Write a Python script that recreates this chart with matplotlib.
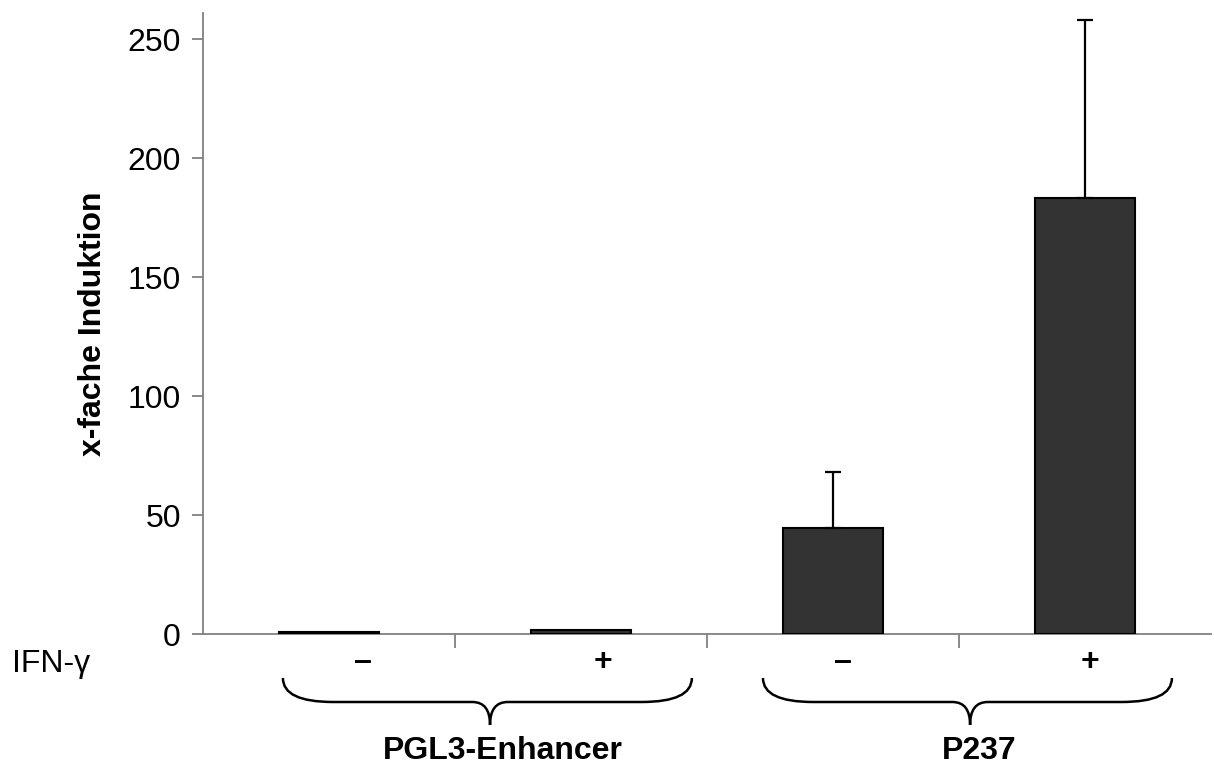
import matplotlib
matplotlib.use("Agg")
import matplotlib.pyplot as plt
from matplotlib.path import Path
from matplotlib.patches import PathPatch
from matplotlib.transforms import blended_transform_factory

plt.rcParams['font.family'] = ['Liberation Sans', 'DejaVu Sans']

# Data
treatment = ["–", "+", "–", "+"]
values = [1.0, 1.8, 44.7, 183.2]
errors = [0.0, 0.0, 23.5, 75.0]
groups = ["PGL3-Enhancer", "P237"]
yticks = [0, 50, 100, 150, 200, 250]

W, H = 1214, 770
fig = plt.figure(figsize=(W / 100, H / 100), dpi=100)
ax = fig.add_axes([203 / W, 1 - 634 / H, 1008 / W, 621 / H])

x = list(range(len(values)))
ax.bar(x, values, width=0.4, color="#333333", edgecolor="black", linewidth=1.5, zorder=3)
for xi, v, e in zip(x, values, errors):
    if e > 0:
        ax.errorbar([xi], [v], yerr=[[0], [e]], fmt="none", ecolor="black",
                    elinewidth=1.6, capsize=5.5, capthick=1.6, zorder=4)

ax.set_xlim(-0.5, len(values) - 0.5)
ax.set_ylim(0, 261)
ax.set_yticks(yticks)
ax.set_yticklabels([str(t) for t in yticks], fontsize=23)

grey = "#808080"
for s in ["top", "right"]:
    ax.spines[s].set_visible(False)
for s in ["left", "bottom"]:
    ax.spines[s].set_color(grey)
    ax.spines[s].set_linewidth(1.3)
ax.tick_params(axis="y", direction="out", length=8, width=1.3, color=grey, pad=8)

# category separators on the x axis, pointing down
ax.set_xticks([i + 0.5 for i in x[:-1]])
ax.set_xticklabels([])
ax.tick_params(axis="x", direction="out", length=10, width=1.3, color=grey)

ax.set_ylabel("x-fache Induktion", fontsize=23, fontweight="bold", labelpad=14)

# annotation row below the axis: treatment signs, braces and group names
tr = blended_transform_factory(ax.transData, fig.transFigure)
sign_x = [0.135, 1.087, 2.040, 3.020]
for sx, t in zip(sign_x, treatment):
    ax.text(sx, 1 - 662 / H, t, transform=tr, ha="center", va="center",
            fontsize=23, fontweight="bold")
fig.text(12 / W, 1 - 664 / H, "IFN-γ", ha="left", va="center", fontsize=23)


def brace(x0, x1, xt, ytop, ymid, ytip, rx_end, rx_tip):
    verts = [
        (x0, ytop), (x0, ymid), (x0 + rx_end, ymid),
        (xt - rx_tip, ymid),
        (xt, ymid), (xt, ytip),
        (xt, ymid), (xt + rx_tip, ymid),
        (x1 - rx_end, ymid),
        (x1, ymid), (x1, ytop),
    ]
    codes = [Path.MOVETO, Path.CURVE3, Path.CURVE3, Path.LINETO,
             Path.CURVE3, Path.CURVE3, Path.CURVE3, Path.CURVE3,
             Path.LINETO, Path.CURVE3, Path.CURVE3]
    return PathPatch(Path(verts, codes), fill=False, edgecolor="black",
                     linewidth=1.8, transform=tr, clip_on=False)


ytop, ymid, ytip = 1 - 678 / H, 1 - 702 / H, 1 - 725 / H
brace_left = [-0.183, 1.722]
brace_right = [1.440, 3.345]
brace_tip = [0.639, 2.544]
label_x = [0.69, 2.58]
for g, name in enumerate(groups):
    ax.add_patch(brace(brace_left[g], brace_right[g], brace_tip[g],
                       ytop, ymid, ytip, 0.2, 0.07))
    ax.text(label_x[g], 1 - 751 / H, name, transform=tr, ha="center", va="center",
            fontsize=23, fontweight="bold")

fig.savefig("out.png", dpi=100)
